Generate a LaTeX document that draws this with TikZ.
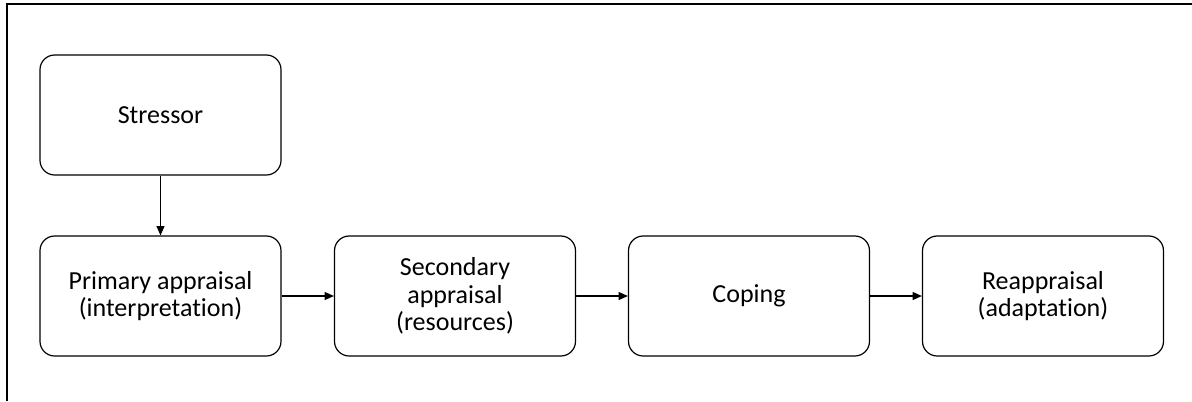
\documentclass[tikz,border=0pt]{standalone}
\usepackage{fontspec}
\setmainfont{Carlito}[Ligatures=NoCommon]
\usetikzlibrary{arrows.meta, positioning}

\begin{document}
\begin{tikzpicture}[x=0.75pt, y=-0.75pt, line width=0.9pt, >={Triangle[length=7pt, width=6pt]},
		stage/.style={draw, rounded corners=11pt, align=center, minimum width=180.75pt, minimum height=90pt, inner sep=2pt, font=\fontsize{19.5}{20.8}\selectfont}]
			\useasboundingbox (0, 0) rectangle (1192, 401);

			% frame
			\draw (7, 401) -- (7, 4) -- (1192, 4);

			\node[stage] at (160.5, 115) (stressor)    {Stressor};
			\node[stage] at (160.5, 296) (primary)     {Primary appraisal\\(interpretation)};
			\node[stage] at (455, 296)   (secondary)   {Secondary\\appraisal\\(resources)};
			\node[stage] at (749, 296)   (coping)      {Coping};
			\node[stage] at (1043, 296)  (reappraisal) {Reappraisal\\(adaptation)};

			\draw[->] (stressor)  -- (primary);
			\draw[->] (primary)   -- (secondary);
			\draw[->] (secondary) -- (coping);
			\draw[->] (coping)    -- (reappraisal);

		\end{tikzpicture}
\end{document}
